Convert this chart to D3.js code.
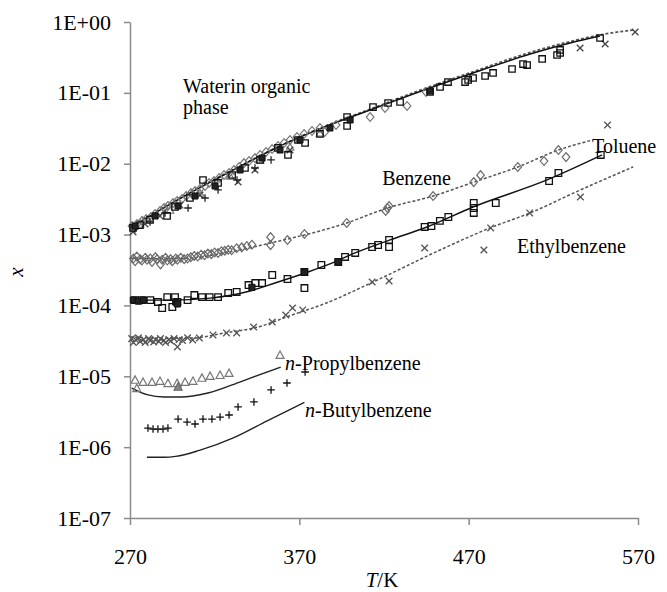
<!DOCTYPE html>
<html>
<head>
<meta charset="utf-8">
<script src="https://cdn.jsdelivr.net/npm/d3@7"></script>
<style>
  body { margin: 0; background: #fff; }
  svg text { font-family: "Liberation Serif", "Times New Roman", serif; fill: #000; }
</style>
</head>
<body>
<div class="canvas"></div>
<script>
// axis ticks
const xTicks = [270, 370, 470, 570];
const yTicks = [1, 1e-1, 1e-2, 1e-3, 1e-4, 1e-5, 1e-6, 1e-7];
const yTickLabels = ['1E+00', '1E-01', '1E-02', '1E-03', '1E-04', '1E-05', '1E-06', '1E-07'];

// water in organic phase: [T/K, x]
const waterCurve = [[270,1.24e-3],[287.7,2.22e-3],[305.4,3.86e-3],[323.2,6.5e-3],[340.9,1.09e-2],[358.6,1.78e-2],[376.3,2.72e-2],[394,4.01e-2],[411.8,5.73e-2],[437.2,9.64e-2],[472.6,0.191],[506.3,0.353],[529.9,0.506],[547.6,0.634]];
const waterCurve2 = [[270,1.3e-3],[288,2.3e-3],[305,3.95e-3],[323,6.6e-3],[341,1.1e-2],[359,1.8e-2],[376,2.75e-2],[394,4.1e-2],[412,5.9e-2],[437,0.1],[473,0.2],[506,0.37],[530,0.53],[548,0.66],[567,0.77]];
const waterDiamonds = [[271.2,1.32e-3],[274.1,1.41e-3],[277.1,1.56e-3],[279.5,1.66e-3],[282.4,1.77e-3],[284.8,1.95e-3],[287.7,2.15e-3],[290.1,2.37e-3],[292.4,2.53e-3],[295.4,2.79e-3],[297.8,2.98e-3],[300.7,3.18e-3],[303.1,3.5e-3],[306,3.86e-3],[308.4,4.12e-3],[311.3,4.4e-3],[314.3,4.85e-3],[316.7,5.35e-3],[319.6,5.7e-3],[322.6,6.29e-3],[325.5,6.93e-3],[328.5,7.4e-3],[331.4,8.15e-3],[334.4,8.99e-3],[337.3,1.02e-2],[340.3,1.09e-2],[343.8,1.2e-2],[346.8,1.33e-2],[350.3,1.46e-2],[353.9,1.61e-2],[357.4,1.78e-2],[361,1.96e-2],[364.5,2.16e-2],[368.6,2.38e-2],[372.8,2.63e-2],[377.5,2.9e-2],[382.2,3.19e-2],[385,2.8e-2],[391.7,3.52e-2],[411.8,4.56e-2],[420.6,6.11e-2],[433.6,6.53e-2],[444.8,0.103]];
const waterSquares = [[271.8,1.24e-3],[275.9,1.36e-3],[281.8,1.61e-3],[291.9,1.83e-3],[296.6,2.45e-3],[305.4,3.28e-3],[313.1,5.89e-3],[322,5.35e-3],[330.3,6.93e-3],[337.9,8.7e-3],[346.8,1.13e-2],[357.4,1.67e-2],[363.3,1.33e-2],[369.2,2.16e-2],[373.4,1.96e-2],[382.2,2.63e-2],[398.2,4.56e-2],[398.2,3.41e-2],[413.5,6.31e-2],[422.4,7.19e-2],[429.5,7.43e-2],[447.2,0.103],[453.1,0.121],[457.8,0.142],[467.9,0.142],[469.7,0.152],[472.6,0.162],[479.7,0.173],[484.4,0.191],[495.6,0.217],[502.1,0.255],[504.5,0.247],[513.4,0.301],[522.2,0.342],[524,0.403],[524,0.365],[547.6,0.595]];
const waterFilled = [[273,1.32e-3],[284.8,1.83e-3],[298.4,2.53e-3],[308.4,3.5e-3],[320.2,4.85e-3],[335,8.15e-3],[348,1.2e-2],[358.6,1.56e-2],[370.4,2.16e-2],[388.1,3.19e-2],[400,4.14e-2],[447.2,0.106]];
const waterPlus = [[273,1.2e-3],[281.8,1.51e-3],[290.7,2.02e-3],[304.3,2.37e-3],[314.3,3.28e-3],[322,4.26e-3],[333.2,5.89e-3],[343.8,8.7e-3],[353.3,1.13e-2]];
const waterTimes = [[271.8,1.09e-3],[278.9,1.41e-3],[287.7,1.83e-3],[299.5,2.61e-3],[311.3,3.62e-3],[333.8,5.52e-3],[343.8,8.15e-3],[364.5,1.56e-2],[535.8,0.43],[550.6,0.489],[568.3,0.722]];
const waterTriangles = [[275.9,1.41e-3],[293.6,2.22e-3],[311.3,3.86e-3],[329.1,6.71e-3],[346.8,1.13e-2],[364.5,1.72e-2],[382.2,2.72e-2]];

// benzene
const benzeneCurve = [[270,4.67e-4],[285,4.55e-4],[305,4.67e-4],[329,5.7e-4],[353,7.6e-4],[398,1.46e-3],[422,2.37e-3],[449,3.5e-3],[473,5.5e-3],[499,9.0e-3],[523,1.56e-2],[543,2.16e-2]];
const benzenePts = [[272,4.6e-4],[273,4.2e-4],[274,4.9e-4],[276,4.5e-4],[277,4.3e-4],[279,4.7e-4],[280,4.4e-4],[282,4.6e-4],[283,4.1e-4],[285,4.8e-4],[286,4.5e-4],[288,3.8e-4],[289,4.4e-4],[291,4.7e-4],[292,4.3e-4],[294,4.5e-4],[295,4.2e-4],[297,4.6e-4],[298,4.4e-4],[300,4.7e-4],[302,4.5e-4],[304,4.6e-4],[306,4.8e-4],[308,5.0e-4],[310,4.9e-4],[312,5.2e-4],[314,5.1e-4],[316,5.4e-4],[318,5.3e-4],[320,5.6e-4],[322,5.5e-4],[324,5.8e-4],[326,5.9e-4],[328,6.1e-4],[330,6.0e-4],[333,6.4e-4],[336,6.6e-4],[339,6.9e-4],[342,7.2e-4],[353,9.2e-4],[353,7.1e-4],[363,8.4e-4],[373,1.02e-3],[398,1.46e-3],[422,2.37e-3],[423,2.53e-3],[421,2.15e-3],[449,3.5e-3],[473,5.5e-3],[477,6.9e-3],[499,9.0e-3],[514.5,1.09e-2],[523,1.56e-2],[527.5,1.24e-2]];

// toluene
const tolueneCurve = [[270,1.19e-4],[293.6,1.19e-4],[317.3,1.27e-4],[340.9,1.6e-4],[355.6,2.07e-4],[373.4,2.87e-4],[388.1,3.85e-4],[402.9,5.5e-4],[423.6,8.4e-4],[445.4,1.28e-3],[472.6,2.45e-3],[516.3,5.9e-3],[548.8,1.33e-2]];
const toluenePts = [[273,1.19e-4],[277,1.19e-4],[282,1.19e-4],[286.5,1.12e-4],[289,9.2e-5],[292,1.31e-4],[295,9.5e-5],[296.6,1.31e-4],[298,1.12e-4],[304,1.19e-4],[308,1.4e-4],[312.5,1.31e-4],[317,1.31e-4],[322,1.31e-4],[328,1.5e-4],[333,1.55e-4],[340,1.94e-4],[344,2.07e-4],[348,2.07e-4],[354,2.69e-4],[363,2.36e-4],[373,2.96e-4],[373,1.76e-4],[383,3.72e-4],[393,4.1e-4],[397,4.83e-4],[403,5.5e-4],[413,6.68e-4],[416.5,7.13e-4],[423,8.39e-4],[423,6.68e-4],[444,1.28e-3],[448,1.32e-3],[453,1.56e-3],[458,1.77e-3],[473,2.79e-3],[473,2.37e-3],[473,2.02e-3],[486,2.79e-3],[517.5,5.7e-3],[523,7.4e-3],[548,1.33e-2]];
const tolueneFilled = [[272,1.19e-4],[275,1.15e-4],[278,1.19e-4],[297,1.12e-4],[298,1.05e-4],[342,1.8e-4],[373,2.96e-4],[393,4.1e-4]];

// ethylbenzene
const ethylCurve = [[270,3.59e-5],[290,3.45e-5],[306.6,3.47e-5],[326.1,4.09e-5],[345.6,4.96e-5],[365.7,7.33e-5],[384.6,1.05e-4],[413.5,2.14e-4],[453.1,6.06e-4],[482.6,1.24e-3],[506.3,2.02e-3],[535.8,4.25e-3],[567.1,9.0e-3]];
const ethylPts = [[271,3.4e-5],[272,3.0e-5],[273.5,3.25e-5],[275,3.5e-5],[276,3.1e-5],[278,3.3e-5],[279,3.0e-5],[281,3.4e-5],[282,3.2e-5],[284,3.05e-5],[285,3.3e-5],[287,3.1e-5],[288,3.4e-5],[290,3.2e-5],[291,3.0e-5],[293,3.3e-5],[294,3.15e-5],[296,3.4e-5],[298,2.6e-5],[299,3.3e-5],[301,3.2e-5],[304,3.5e-5],[307,3.25e-5],[311,3.47e-5],[319,3.83e-5],[327,4.09e-5],[333,4.09e-5],[343,4.96e-5],[354,5.84e-5],[362,7.33e-5],[366,9.2e-5],[372,8.63e-5],[413,2.14e-4],[423,2.21e-4],[444,6.47e-4],[479,6.06e-4],[483,1.24e-3],[506,2.02e-3],[536,3.39e-3],[552,3.52e-2]];

// n-propylbenzene
const propylCurve = [[271,6.8e-6],[280,5.5e-6],[290,5.1e-6],[300,5.1e-6],[316,5.8e-6],[336,8.5e-6],[359,1.35e-5]];
const propylPts = [[273,8.9e-6],[274,6.8e-6],[277.7,8.3e-6],[283,8.3e-6],[287.7,8.6e-6],[292.4,8.0e-6],[297.8,8.0e-6],[302.5,8.3e-6],[307.2,8.6e-6],[312.5,9.5e-6],[317.3,1.01e-5],[323.2,1.04e-5],[328.5,1.11e-5],[358.6,2.0e-5]];
const propylFilled = [[298.4,7.1e-6]];

// n-butylbenzene
const butylCurve = [[280,7.2e-7],[290,7.2e-7],[297,7.4e-7],[311,9.0e-7],[331,1.35e-6],[351,2.35e-6],[373,4.3e-6]];
const butylPts = [[280.6,1.86e-6],[283.6,1.8e-6],[286.5,1.8e-6],[289.5,1.8e-6],[292.4,1.86e-6],[298.4,2.49e-6],[303.7,2.26e-6],[308.4,2.12e-6],[313.1,2.49e-6],[318.4,2.49e-6],[323.2,2.66e-6],[328.5,2.84e-6],[333.8,3.69e-6],[343.2,4.34e-6],[353.3,6.41e-6],[362.7,8.04e-6],[373.4,1.15e-5]];

// labels: [text, T, x, italic n prefix]
const labels = [
  ['Waterin organic', 301.3, 0.0995, false],
  ['phase', 301.3, 0.05, false],
  ['Benzene', 418.9, 5.0e-3, false],
  ['Toluene', 542.9, 1.42e-2, false],
  ['Ethylbenzene', 498.6, 5.5e-4, false],
  ['-Propylbenzene', 361.6, 1.23e-5, true],
  ['-Butylbenzene', 373.4, 2.67e-6, true]
];

const serif = '"Liberation Serif", "Times New Roman", serif';
const width = 667, height = 592;
const margin = { top: 22, right: 29, bottom: 74, left: 130 };

const svg = d3.select('.canvas').append('svg')
  .attr('width', width)
  .attr('height', height);

const x = d3.scaleLinear().domain([270, 570]).range([margin.left, width - margin.right]);
const y = d3.scaleLog().domain([1e-7, 1]).range([height - margin.bottom, margin.top]);

// axes
const axisColor = '#8a8a8a';
const gy = svg.append('g')
  .attr('transform', `translate(${margin.left},0)`)
  .call(d3.axisLeft(y).tickValues(yTicks).tickFormat((d, i) => yTickLabels[i]).tickSize(6).tickSizeOuter(0).tickPadding(13));
const gx = svg.append('g')
  .attr('transform', `translate(0,${height - margin.bottom})`)
  .call(d3.axisBottom(x).tickValues(xTicks).tickSize(7).tickSizeOuter(0).tickPadding(23));
[gx, gy].forEach(g => {
  g.attr('font-family', null).attr('font-size', null);
  g.selectAll('path,line').attr('stroke', axisColor).attr('stroke-width', 1.5);
  g.selectAll('text').style('font-family', serif).style('font-size', '22px').attr('fill', '#111');
});

// axis titles
const xt = svg.append('text').attr('x', 382).attr('y', 587).attr('text-anchor', 'middle')
  .style('font-family', serif).style('font-size', '21px');
xt.append('tspan').attr('font-style', 'italic').text('T');
xt.append('tspan').text('/K');
svg.append('text').attr('transform', 'translate(23,272) rotate(-90)').attr('text-anchor', 'middle')
  .style('font-family', serif).style('font-size', '21px').attr('font-style', 'italic').text('x');

// curves
const line = d3.line().x(d => x(d[0])).y(d => y(d[1])).curve(d3.curveMonotoneX);
function drawCurve(data, color, dash, w) {
  svg.append('path').datum(data)
    .attr('d', line)
    .attr('fill', 'none')
    .attr('stroke', color)
    .attr('stroke-width', w)
    .attr('stroke-dasharray', dash);
}
drawCurve(waterCurve2, '#555', '3,2', 1.8);
drawCurve(waterCurve, '#111', null, 1.5);
drawCurve(benzeneCurve, '#555', '3,2', 1.5);
drawCurve(tolueneCurve, '#111', null, 1.4);
drawCurve(ethylCurve, '#555', '3,2', 1.5);
drawCurve(propylCurve, '#222', null, 1.4);
drawCurve(butylCurve, '#222', null, 1.4);

// markers
const shapes = {
  square: s => `M${-s},${-s}h${2 * s}v${2 * s}h${-2 * s}Z`,
  diamond: s => `M0,${-s * 1.15}L${s},0L0,${s * 1.15}L${-s},0Z`,
  tri: s => `M0,${-s}L${s},${s * 0.85}L${-s},${s * 0.85}Z`,
  plus: s => `M${-s},0H${s}M0,${-s}V${s}`,
  times: s => `M${-s},${-s}L${s},${s}M${-s},${s}L${s},${-s}`
};
function drawPoints(data, shape, size, stroke, fill, w) {
  svg.append('g').selectAll('path').data(data).join('path')
    .attr('transform', d => `translate(${x(d[0])},${y(d[1])})`)
    .attr('d', shapes[shape](size))
    .attr('fill', fill)
    .attr('stroke', stroke)
    .attr('stroke-width', w);
}
drawPoints(waterDiamonds, 'diamond', 3.8, '#777', 'none', 1.2);
drawPoints(waterTriangles, 'tri', 3.8, '#777', 'none', 1.2);
drawPoints(waterTimes, 'times', 3.3, '#444', 'none', 1.3);
drawPoints(waterPlus, 'plus', 3.8, '#222', 'none', 1.3);
drawPoints(waterSquares, 'square', 3.2, '#111', 'none', 1.3);
drawPoints(waterFilled, 'square', 3, '#111', '#222', 1);

drawPoints(benzenePts, 'diamond', 3.8, '#6a6a6a', 'none', 1.2);
drawPoints(toluenePts, 'square', 3.3, '#111', 'none', 1.3);
drawPoints(tolueneFilled, 'square', 3.1, '#111', '#222', 1);
drawPoints(ethylPts, 'times', 3.3, '#555', 'none', 1.3);
drawPoints(propylPts, 'tri', 4, '#777', 'none', 1.2);
drawPoints(propylFilled, 'tri', 4, '#666', '#888', 1.2);
drawPoints(butylPts, 'plus', 3.8, '#111', 'none', 1.3);

// annotations
labels.forEach(([t, tx, ty, ital]) => {
  const el = svg.append('text').attr('x', x(tx)).attr('y', y(ty))
    .style('font-family', serif).style('font-size', '20px');
  if (ital) el.append('tspan').attr('font-style', 'italic').text('n');
  el.append('tspan').text(t);
});
</script>
</body>
</html>
